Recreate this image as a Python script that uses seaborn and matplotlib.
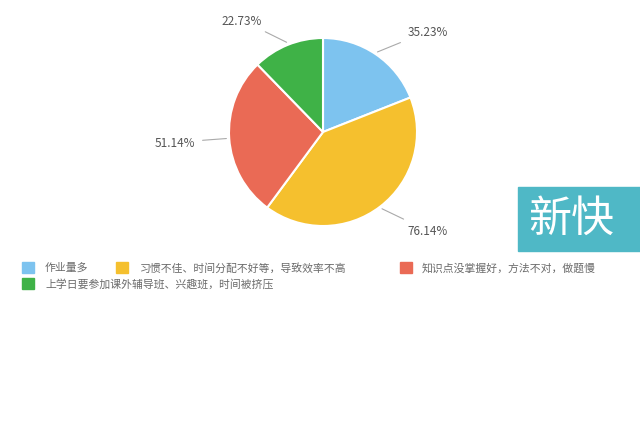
import matplotlib
matplotlib.use("Agg")
import matplotlib.pyplot as plt
import seaborn as sns
import numpy as np
from matplotlib.patches import Rectangle

sns.set_theme(style="white")
plt.rcParams["font.family"] = ["Noto Sans CJK SC", "DejaVu Sans"]

categories = ["作业量多", "习惯不佳、时间分配不好等，导致效率不高",
              "知识点没掌握好，方法不对，做题慢", "上学日要参加课外辅导班、兴趣班，时间被挤压"]
values = [35.23, 76.14, 51.14, 22.73]
labels = ["35.23%", "76.14%", "51.14%", "22.73%"]
colors = ["#7dc3ef", "#f5c02e", "#ea6a55", "#3fb247"]

W, H = 640, 431
fig = plt.figure(figsize=(W / 100, H / 100), dpi=100)
fig.patch.set_facecolor("white")

# pie axes: centre (323,133) px, radius 94 px
cx, cy, r = 323, 133, 94
ax = fig.add_axes([(cx - r) / W, (H - cy - r) / H, 2 * r / W, 2 * r / H])
wedges, _ = ax.pie(values, colors=colors, startangle=90, counterclock=False,
                   wedgeprops=dict(edgecolor="white", linewidth=1.5))
ax.set_xlim(-1, 1)
ax.set_ylim(-1, 1)
ax.set_aspect("auto")
ax.axis("off")

# label positions (data units relative to pie centre)
label_pos = [(0.90, 1.07), (0.90, -1.05), (-1.36, -0.11), (-0.65, 1.19)]
for w, lab, (tx, ty) in zip(wedges, labels, label_pos):
    ang = np.deg2rad((w.theta1 + w.theta2) / 2)
    px, py = np.cos(ang), np.sin(ang)
    ha = "left" if tx > 0 else "right"
    ax.annotate(lab, xy=(px * 1.03, py * 1.03), xytext=(tx, ty), ha=ha, va="center",
                fontsize=8.5, color="#555555", annotation_clip=False,
                arrowprops=dict(arrowstyle="-", color="#aaaaaa", lw=0.8,
                                shrinkA=3, shrinkB=0))

# legend drawn manually (two rows, as in the reference)
leg = [(22, 268, 45), (116, 268, 140), (400, 268, 422), (22, 284, 45)]
for (bx, by, tx), col, cat in zip(leg, colors, categories):
    fig.patches.append(Rectangle((bx / W, (H - by - 6) / H), 12 / W, 11 / H,
                                 transform=fig.transFigure, color=col))
    fig.text(tx / W, (H - by) / H, cat, fontsize=7.8, color="#6a6a6a", va="center")

# watermark box
fig.patches.append(Rectangle((518 / W, (H - 252) / H), 122 / W, 64 / H,
                             transform=fig.transFigure, color="#4fb8c6"))
fig.text(528 / W, (H - 220) / H, "新快", fontsize=31, color="white", va="center")

fig.savefig("out.png", dpi=100)
